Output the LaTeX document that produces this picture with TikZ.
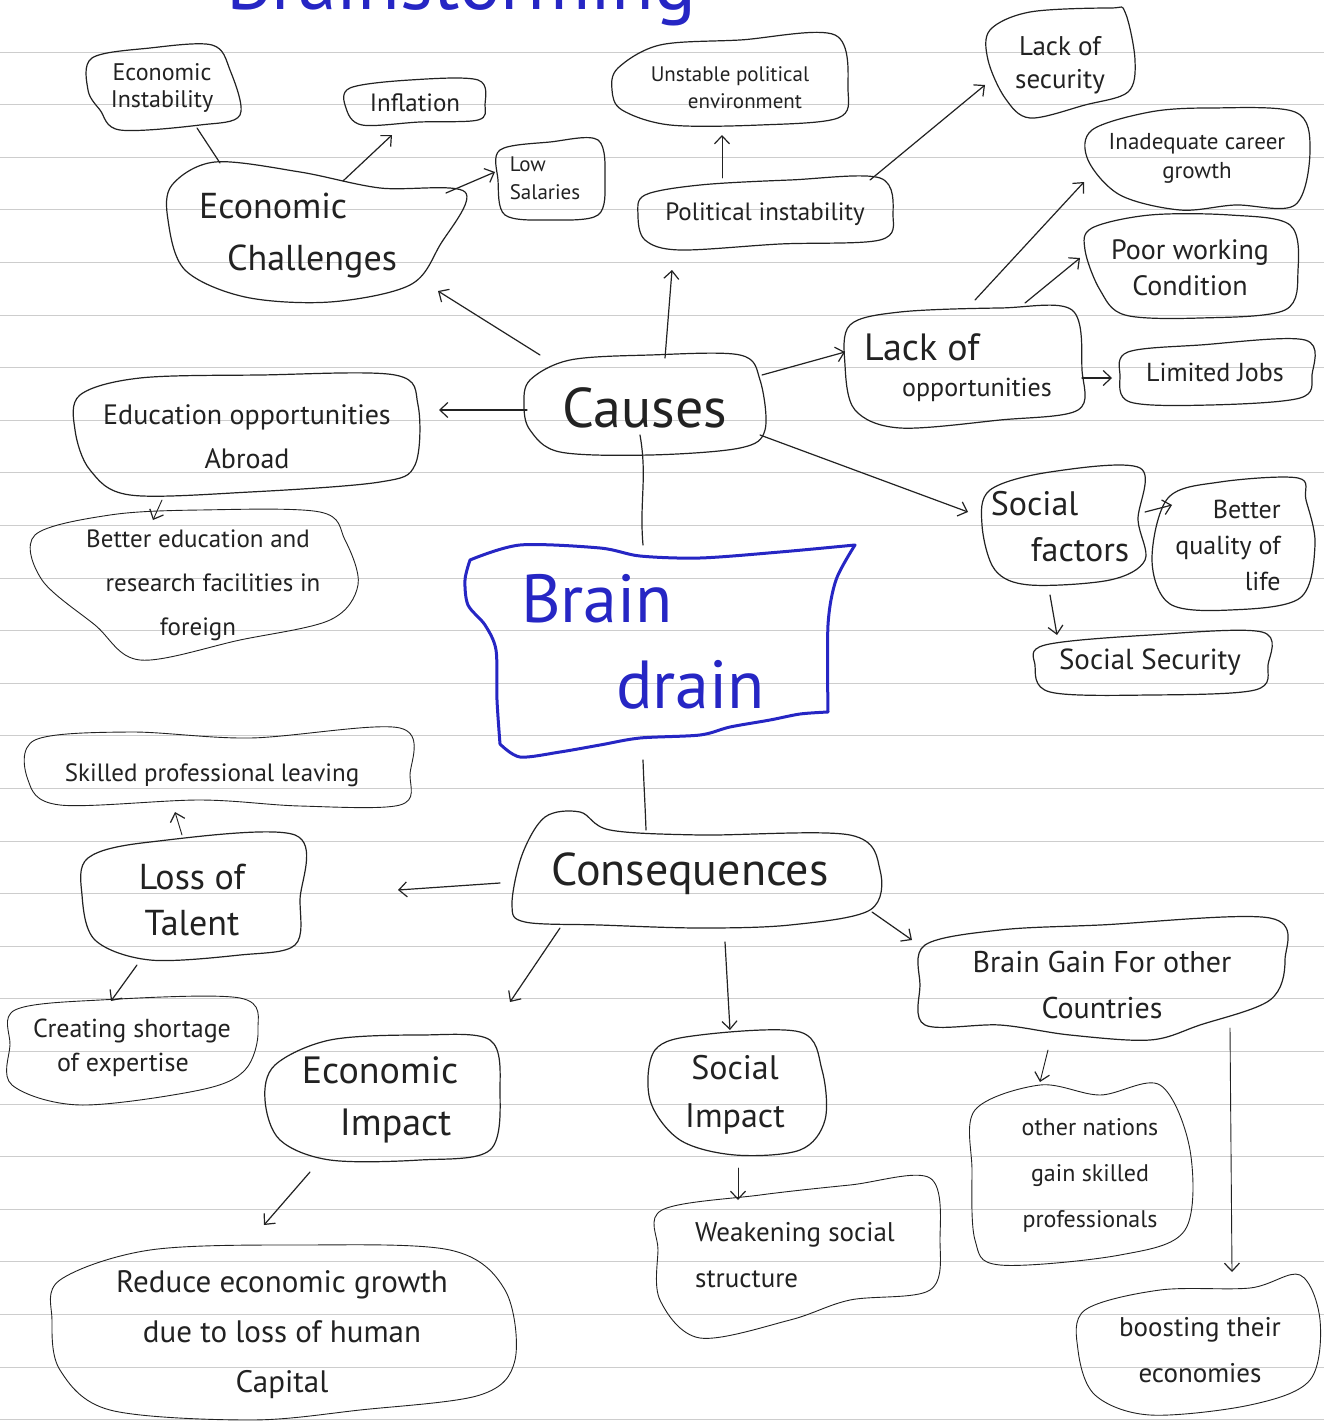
\documentclass[tikz,border=0pt]{standalone}
\usepackage{fontspec}
\setmainfont{PT Sans}
\usetikzlibrary{arrows.meta}
\definecolor{ink}{HTML}{222222}
\definecolor{bink}{HTML}{2626C4}
\definecolor{paperline}{HTML}{CDCDCD}
\newcommand\fsz[2]{\fontsize{#1}{#2}\selectfont}
\tikzset{
 box/.style={draw=ink, line width=1.2pt, line join=round},
 bluebox/.style={draw=bink, line width=3pt, line join=round},
 lbl/.style={text=ink, inner sep=0pt, align=center},
 conn/.style={draw=ink, line width=1.2pt, line cap=round},
 arr/.style={conn, -{Straight Barb[length=8pt,width=15pt,line width=1.2pt]}},
 wob/.style={smooth cycle, tension=0.55}
}
\begin{document}
\begin{tikzpicture}[x=1pt,y=-1pt]
\useasboundingbox (0,0) rectangle (1324,1421);
\clip (0,0) rectangle (1324,1421);
\fill[white] (0,0) rectangle (1324,1421);
% lined paper
\foreach \k in {0,...,26} \draw[paperline, line width=0.8pt] (0,{52+52.6*\k}) -- (1324,{52+52.6*\k});
% title (cut off at the top)
\node[anchor=base west, inner sep=0pt, text=bink] (title) at (226,10) {\fsz{78}{80}Brainstorming};

% ---------- outlines ----------
\draw[box] plot[wob] coordinates {(92,58) (150,48) (212,45) (230,70) (240,115) (200,125) (120,130) (100,110) (88,90)};
\draw[box] plot[wob] coordinates {(350,88) (410,80) (478,80) (485,105) (478,120) (420,122) (362,125) (346,108)};
\draw[box] plot[wob] coordinates {(172,185) (215,162) (300,172) (380,188) (465,192) (440,245) (410,285) (330,302) (245,297) (185,270) (168,220)};
\draw[box] plot[wob] coordinates {(500,150) (550,142) (598,140) (605,180) (598,215) (550,220) (505,215) (498,180)};
\draw[box] plot[wob] coordinates {(618,68) (660,45) (740,40) (835,35) (848,90) (838,118) (760,125) (670,125) (622,110) (612,90)};
\draw[box] plot[wob] coordinates {(645,195) (700,185) (790,180) (880,178) (893,215) (880,240) (780,244) (680,250) (645,240) (638,215)};
\draw[box] plot[wob] coordinates {(990,30) (1030,12) (1110,8) (1125,12) (1135,60) (1128,92) (1085,105) (1030,118) (1005,98) (988,60)};
\draw[box] plot[wob] coordinates {(1092,130) (1150,112) (1210,108) (1295,112) (1310,150) (1295,205) (1235,205) (1180,210) (1120,195) (1088,160)};
\draw[box] plot[wob] coordinates {(1092,228) (1150,215) (1230,215) (1290,225) (1298,270) (1285,310) (1200,318) (1125,315) (1100,290) (1085,250)};
\draw[box] plot[wob] coordinates {(850,325) (900,312) (1000,308) (1072,310) (1082,370) (1078,410) (1000,420) (900,428) (855,410) (845,365)};
\draw[box] plot[wob] coordinates {(1128,352) (1200,345) (1305,340) (1312,375) (1300,398) (1210,405) (1130,402) (1120,375)};
\draw[box] plot[wob] coordinates {(530,380) (570,360) (650,355) (740,355) (760,380) (765,430) (740,448) (650,455) (560,452) (530,430) (524,405)};
\draw[box] plot[wob] coordinates {(80,395) (140,378) (260,375) (395,375) (418,405) (415,465) (380,482) (250,492) (130,495) (90,470) (75,430)};
\draw[box, line width=0.9pt] plot[wob] coordinates {(35,535) (110,515) (200,510) (320,512) (345,540) (358,585) (330,620) (240,640) (140,660) (95,625) (42,580)};
\draw[box] plot[wob] coordinates {(990,490) (1050,472) (1140,468) (1138,520) (1145,560) (1110,580) (1030,585) (995,570) (982,525)};
\draw[box] plot[wob] coordinates {(1168,498) (1220,482) (1298,478) (1306,500) (1315,545) (1300,598) (1230,610) (1170,604) (1152,560)};
\draw[box] plot[wob] coordinates {(1045,645) (1150,635) (1262,632) (1268,665) (1255,690) (1150,695) (1050,692) (1035,665)};
\draw[bluebox] plot[smooth, tension=0.5] coordinates {(470,560) (520,545) (600,548) (640,556) (700,558) (780,552) (855,545)}
  -- plot[smooth, tension=0.5] coordinates {(855,545) (836,580) (828,625) (828,712)}
  -- plot[smooth, tension=0.5] coordinates {(828,712) (800,714) (770,720) (730,727) (700,735) (640,738) (600,745) (560,752) (520,757) (500,744)}
  -- plot[smooth, tension=0.5] coordinates {(500,744) (497,700) (496,650) (485,625) (468,605) (465,580) (470,560)} -- cycle;
\draw[box, line width=0.9pt] plot[wob] coordinates {(35,740) (130,732) (250,738) (400,728) (410,775) (400,805) (300,806) (200,800) (60,805) (28,780)};
\draw[box] plot[wob] coordinates {(88,858) (150,842) (295,835) (300,900) (295,945) (240,955) (150,960) (95,940) (82,895)};
\draw[box] plot[wob] coordinates {(512,905) (522,855) (545,817) (580,812) (610,830) (700,835) (850,835) (880,870) (870,910) (790,925) (700,928) (600,925) (525,922)};
\draw[box] plot[wob] coordinates {(925,945) (1000,930) (1100,925) (1270,918) (1285,960) (1270,1000) (1200,1025) (1150,1040) (1070,1035) (1000,1025) (925,1025) (920,985)};
\draw[box, line width=0.9pt] plot[wob] coordinates {(15,1010) (100,1000) (240,998) (258,1030) (245,1070) (200,1090) (80,1105) (12,1085) (10,1045)};
\draw[box] plot[wob] coordinates {(275,1065) (330,1040) (420,1035) (490,1040) (500,1090) (490,1150) (420,1160) (330,1160) (280,1140) (265,1100)};
\draw[box] plot[wob] coordinates {(655,1050) (700,1035) (800,1032) (822,1070) (825,1120) (800,1150) (735,1155) (680,1140) (650,1100)};
\draw[box, line width=0.9pt] plot[wob] coordinates {(975,1110) (1040,1085) (1100,1095) (1160,1085) (1190,1150) (1185,1230) (1120,1255) (1000,1265) (975,1240) (972,1170)};
\draw[box, line width=0.9pt] plot[wob] coordinates {(662,1210) (760,1195) (850,1185) (930,1178) (940,1240) (930,1290) (850,1300) (790,1320) (700,1338) (660,1300) (658,1250)};
\draw[box, line width=0.9pt] plot[wob] coordinates {(60,1280) (150,1250) (300,1245) (450,1250) (505,1290) (515,1360) (480,1395) (360,1410) (250,1420) (110,1410) (60,1370) (52,1320)};
\draw[box, line width=0.9pt] plot[wob] coordinates {(1085,1310) (1160,1290) (1250,1288) (1300,1275) (1320,1320) (1310,1380) (1250,1405) (1150,1415) (1095,1395) (1078,1350)};

% ---------- labels ----------
\node[lbl, font={\fsz{24}{27}}] (econinst) at (162,88) {Economic\\Instability};
\node[lbl, font={\fsz{25}{28}}] (inflation) at (415,103) {Inflation};
\node[lbl, align=left, font={\fsz{36}{52}}] (econch) at (298,236) {Economic\\\hspace*{28pt}Challenges};
\node[lbl, align=left, font={\fsz{21}{28}}] (lowsal) at (545,178) {Low\\Salaries};
\node[lbl, font={\fsz{21}{27}}] (unstable) at (730,88) {Unstable political\\\hspace*{30pt}environment};
\node[lbl, font={\fsz{25}{28}}] (polit) at (765,214) {Political instability};
\node[lbl, font={\fsz{27}{33}}] (lacksec) at (1060,65) {Lack of\\security};
\node[lbl, font={\fsz{23}{29}}] (inadeq) at (1197,158) {Inadequate career\\growth};
\node[lbl, font={\fsz{28}{36}}] (poor) at (1190,268) {Poor working\\Condition};
\node[lbl, align=left, font={\fsz{26}{36}}] (lackopp) at (958,368) {{\fsz{38}{40}Lack of}\\\hspace*{38pt}opportunities};
\node[lbl, font={\fsz{26}{30}}] (limited) at (1215,372) {Limited Jobs};
\node[lbl, font={\fsz{56}{60}}] (causes) at (645,408) {Causes};
\node[lbl, font={\fsz{28}{44}}] (educ) at (247,437) {Education opportunities\\Abroad};
\node[lbl, font={\fsz{25}{44}}] (bettered) at (198,585) {Better education and\\\hspace*{30pt}research facilities in\\foreign};
\node[lbl, align=left, font={\fsz{34}{46}}] (socfac) at (1060,527) {Social\\\hspace*{40pt}factors};
\node[lbl, align=right, font={\fsz{26}{36}}] (betterq) at (1228,545) {Better\\quality of\\life};
\node[lbl, font={\fsz{29}{32}}] (socsec) at (1150,662) {Social Security};
\node[lbl, align=left, text=bink, font={\fsz{68}{86}}] (brain) at (643,642) {Brain\\\hspace*{95pt}drain};
\node[lbl, font={\fsz{25}{28}}] (skilled) at (212,775) {Skilled professional leaving};
\node[lbl, font={\fsz{36}{46}}] (loss) at (192,900) {Loss of\\Talent};
\node[lbl, font={\fsz{46}{50}}] (conseq) at (690,874) {Consequences};
\node[lbl, font={\fsz{30}{46}}] (braingain) at (1102,985) {Brain Gain For other\\Countries};
\node[lbl, align=left, font={\fsz{26}{34}}] (creating) at (132,1048) {Creating shortage\\\hspace*{24pt}of expertise};
\node[lbl, align=left, font={\fsz{38}{52}}] (econimp) at (380,1100) {Economic\\\hspace*{38pt}Impact};
\node[lbl, font={\fsz{34}{48}}] (socimp) at (735,1095) {Social\\Impact};
\node[lbl, font={\fsz{24}{46}}] (othern) at (1090,1175) {other nations\\gain skilled\\professionals};
\node[lbl, align=left, font={\fsz{27}{46}}] (weaken) at (795,1255) {Weakening social\\structure};
\node[lbl, font={\fsz{31}{50}}] (reduce) at (282,1335) {Reduce economic growth\\due to loss of human\\Capital};
\node[lbl, font={\fsz{27}{46}}] (boosting) at (1200,1350) {boosting their\\economies};

% ---------- connectors ----------
\draw[conn] ([shift={(35,40)}]econinst.center) -- ([shift={(-78,-73)}]econch.center);
\draw[arr] ([shift={(45,-55)}]econch.center) -- ([shift={(-23,32)}]inflation.center);
\draw[arr] ([shift={(148,-43)}]econch.center) -- ([shift={(-50,-6)}]lowsal.center);
\draw[arr] ([shift={(-105,-53)}]causes.center) -- ([shift={(140,55)}]econch.center);
\draw[arr] ([shift={(20,-50)}]causes.center) -- ([shift={(-93,56)}]polit.center);
\draw[arr, line width=0.9pt] ([shift={(-43,-36)}]polit.center) -- ([shift={(-8,47)}]unstable.center);
\draw[arr] ([shift={(105,-34)}]polit.center) -- ([shift={(-75,20)}]lacksec.center);
\draw[arr] ([shift={(117,-33)}]causes.center) -- ([shift={(-113,-16)}]lackopp.center);
\draw[arr] ([shift={(17,-68)}]lackopp.center) -- ([shift={(-113,24)}]inadeq.center);
\draw[arr] ([shift={(67,-65)}]lackopp.center) -- ([shift={(-110,-10)}]poor.center);
\draw[arr] ([shift={(124,10)}]lackopp.center) -- ([shift={(-103,6)}]limited.center);
\draw[arr] ([shift={(-118,2)}]causes.center) -- ([shift={(192,-27)}]educ.center);
\draw[arr, line width=0.9pt] ([shift={(-85,63)}]educ.center) -- ([shift={(-45,-65)}]bettered.center);
\draw[arr] ([shift={(115,27)}]causes.center) -- ([shift={(-92,-15)}]socfac.center);
\draw[arr] ([shift={(85,-15)}]socfac.center) -- ([shift={(-56,-40)}]betterq.center);
\draw[arr] ([shift={(-10,68)}]socfac.center) -- ([shift={(-93,-27)}]socsec.center);
\draw[conn] ([shift={(-5,27)}]causes.center) to[out=-80,in=95] ([shift={(0,-97)}]brain.center);
\draw[conn] ([shift={(0,118)}]brain.center) to[out=-88,in=92] ([shift={(-44,-44)}]conseq.center);
\draw[arr] ([shift={(-190,9)}]conseq.center) -- ([shift={(206,-10)}]loss.center);
\draw[arr, line width=0.9pt] ([shift={(-10,-65)}]loss.center) -- ([shift={(-37,37)}]skilled.center);
\draw[arr] ([shift={(-55,65)}]loss.center) -- ([shift={(-21,-47)}]creating.center);
\draw[arr] ([shift={(-130,54)}]conseq.center) -- ([shift={(130,-98)}]econimp.center);
\draw[arr] ([shift={(35,68)}]conseq.center) -- ([shift={(-5,-65)}]socimp.center);
\draw[arr] ([shift={(182,38)}]conseq.center) -- ([shift={(-190,-45)}]braingain.center);
\draw[arr] ([shift={(-70,72)}]econimp.center) -- ([shift={(-18,-110)}]reduce.center);
\draw[arr, line width=0.9pt] ([shift={(3,73)}]socimp.center) -- ([shift={(-57,-55)}]weaken.center);
\draw[arr, line width=0.9pt] ([shift={(-54,65)}]braingain.center) -- ([shift={(-50,-93)}]othern.center);
\draw[arr, line width=0.9pt] ([shift={(128,43)}]braingain.center) -- ([shift={(32,-78)}]boosting.center);
\end{tikzpicture}
\end{document}
